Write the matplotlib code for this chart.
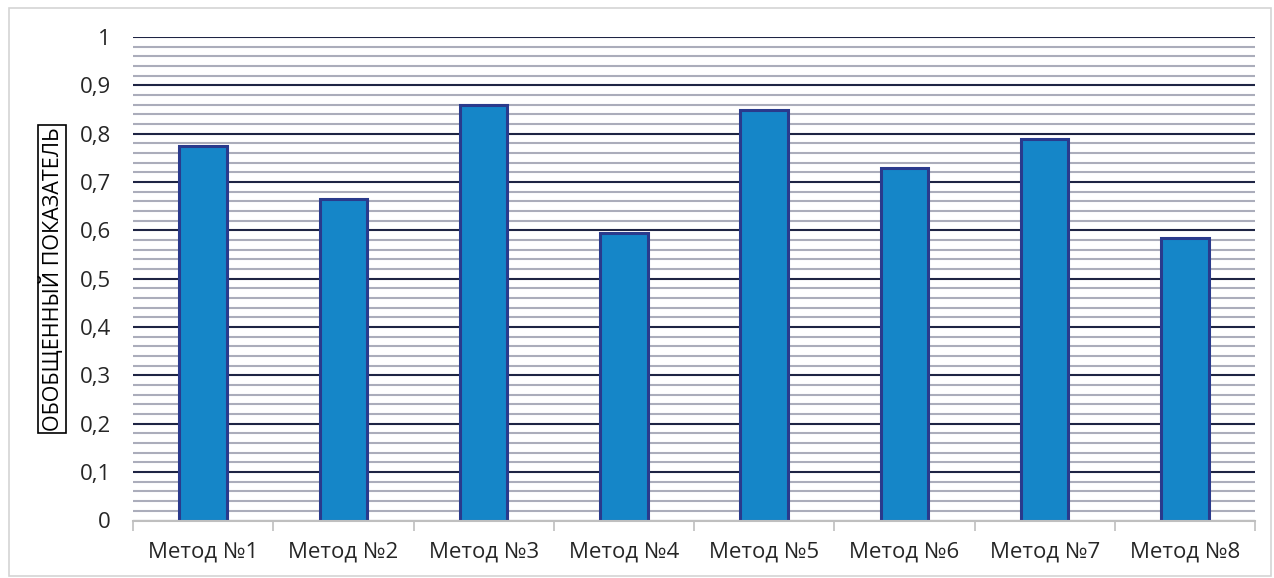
import numpy as np
import matplotlib.pyplot as plt
from matplotlib.patches import Rectangle
from matplotlib.ticker import MultipleLocator, FuncFormatter

plt.rcParams['font.family'] = ['Open Sans', 'DejaVu Sans']

methods = ['Метод №1', 'Метод №2', 'Метод №3', 'Метод №4',
           'Метод №5', 'Метод №6', 'Метод №7', 'Метод №8']
scores = [0.775, 0.665, 0.86, 0.595, 0.85, 0.73, 0.79, 0.585]
y_label = 'ОБОБЩЕННЫЙ ПОКАЗАТЕЛЬ'

fig = plt.figure(figsize=(12.74, 5.78), dpi=100)
ax = fig.add_axes([133 / 1274, 1 - 520.5 / 578, 1122 / 1274, 483.5 / 578])

# light outer frame of the chart area
fig.patches.append(Rectangle((9 / 1274, 2 / 578), 1262 / 1274, 568 / 578,
                             transform=fig.transFigure, fill=False,
                             edgecolor='#d4d4d4', linewidth=1.2))

x = np.arange(len(methods))
ax.bar(x, scores, width=0.34, color='#1586c8', edgecolor='#2a3a8c',
       linewidth=2.2, zorder=3)

ax.set_xlim(-0.5, len(methods) - 0.5)
ax.set_ylim(0, 1)


def comma_fmt(v, pos):
    if abs(v) < 1e-9:
        return '0'
    if abs(v - 1) < 1e-9:
        return '1'
    return ('%.1f' % v).replace('.', ',')


ax.yaxis.set_major_locator(MultipleLocator(0.1))
ax.yaxis.set_minor_locator(MultipleLocator(0.02))
ax.yaxis.set_major_formatter(FuncFormatter(comma_fmt))
ax.grid(axis='y', which='minor', color='#abadbb', linewidth=1.5, zorder=1)
ax.grid(axis='y', which='major', color='#1e2444', linewidth=1.5, zorder=2)
ax.tick_params(axis='y', which='both', length=0, pad=16, labelsize=16,
               labelcolor='#262626')

# category labels between boundary ticks
ax.set_xticks(np.arange(-0.5, len(methods)), minor=False)
ax.set_xticklabels([])
ax.set_xticks(x, minor=True)
ax.set_xticklabels(methods, minor=True)
ax.tick_params(axis='x', which='major', length=7, width=1.2, color='#bfbfbf')
ax.tick_params(axis='x', which='minor', length=0, pad=15, labelsize=16,
               labelcolor='#262626')

for s in ['top', 'right', 'left']:
    ax.spines[s].set_visible(False)
ax.spines['bottom'].set_color('#bfbfbf')
ax.spines['bottom'].set_linewidth(1.5)
ax.spines['bottom'].set_zorder(4)

fig.text(52 / 1274, 1 - 279 / 578, y_label, rotation=90, ha='center',
         va='center', fontsize=15.5, color='#000000',
         bbox=dict(boxstyle='square,pad=0.1', facecolor='white',
                   edgecolor='black', linewidth=1.2))

fig.savefig('out.png', dpi=100)
